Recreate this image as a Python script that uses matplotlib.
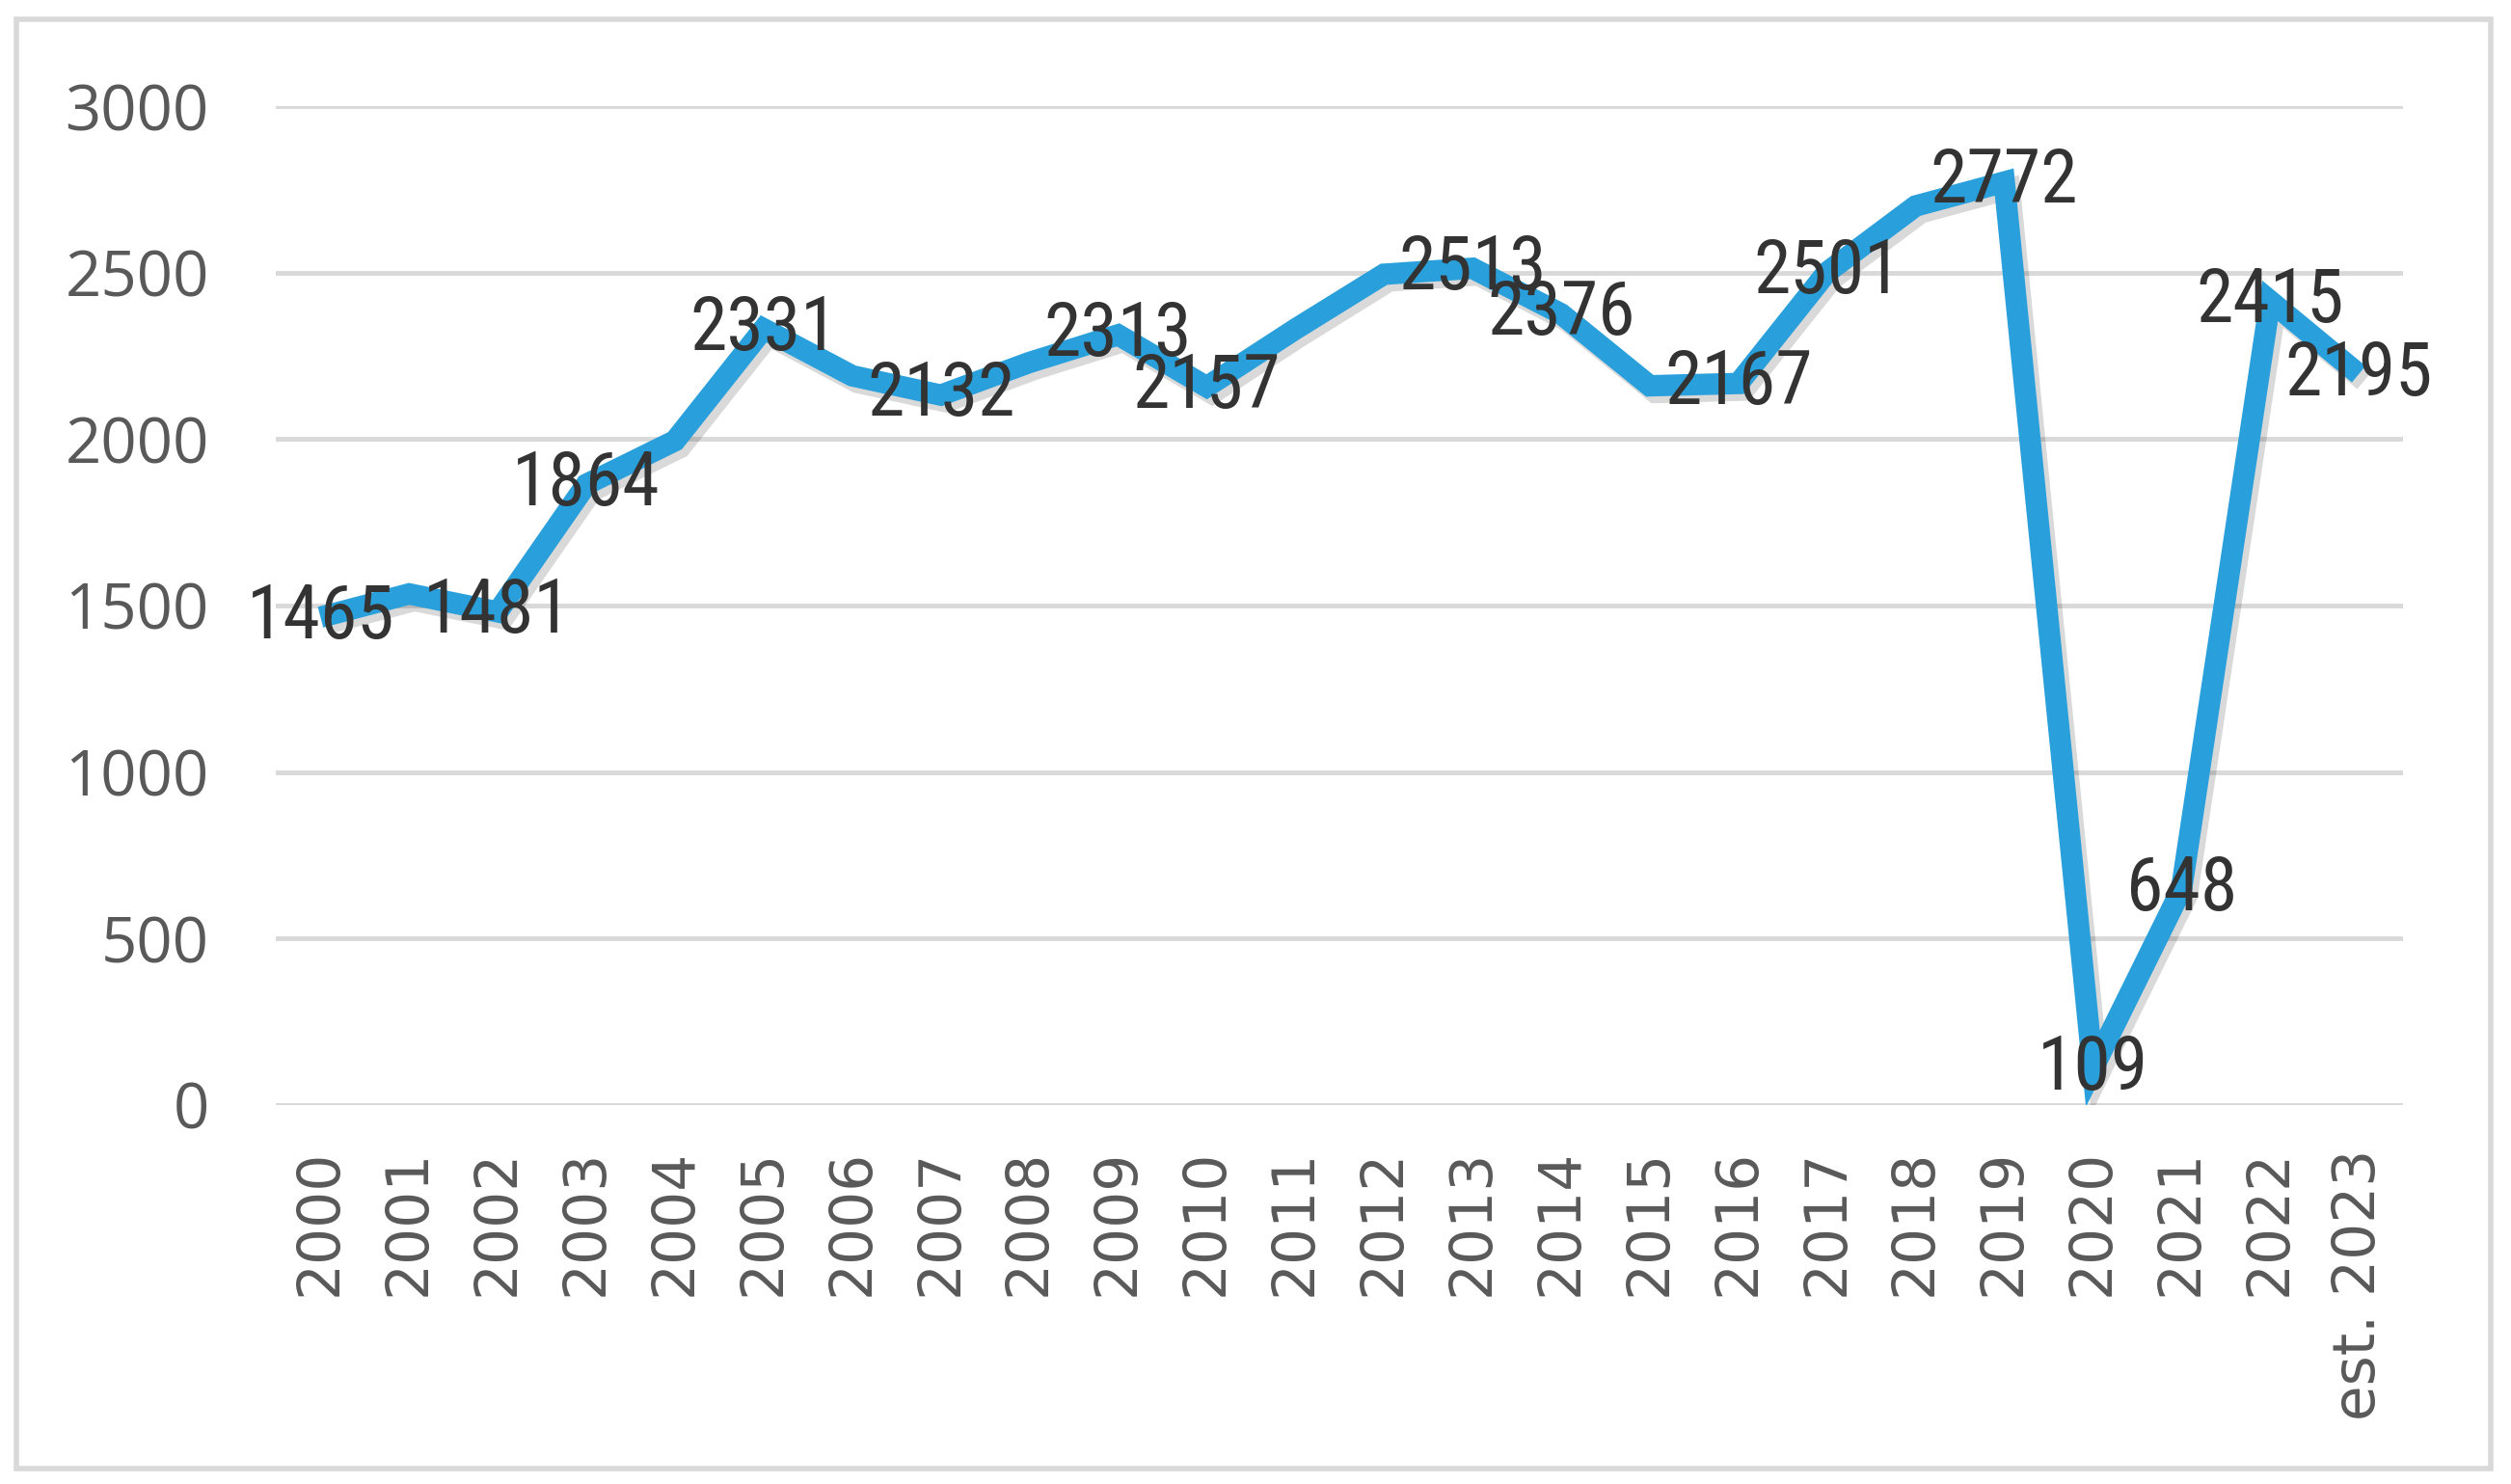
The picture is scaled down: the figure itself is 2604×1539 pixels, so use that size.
import numpy as np
import matplotlib
matplotlib.use('Agg')
import matplotlib.pyplot as plt
import matplotlib.patheffects as pe
from matplotlib.patches import Rectangle
from matplotlib import font_manager

years = ['2000', '2001', '2002', '2003', '2004', '2005', '2006', '2007', '2008',
         '2009', '2010', '2011', '2012', '2013', '2014', '2015', '2016', '2017',
         '2018', '2019', '2020', '2021', '2022', 'est. 2023']
values = [1465, 1535, 1481, 1864, 1995, 2331, 2190, 2132, 2230, 2313, 2157, 2330,
          2495, 2513, 2376, 2160, 2167, 2501, 2700, 2772, 109, 648, 2415, 2195]
# years whose value is printed on the chart
labelled = [0, 2, 3, 5, 7, 9, 10, 13, 14, 16, 17, 19, 20, 21, 22, 23]

line_color = '#29A0DC'
grid_color = '#D9D9D9'

# pick a narrow face for the data labels if one is around
names = {f.name for f in font_manager.fontManager.ttflist}
narrow = [n for n in ['Liberation Sans Narrow', 'Arial Narrow', 'Roboto Condensed',
                      'Open Sans Condensed', 'DejaVu Sans'] if n in names]
condensed_dejavu = any(f.name == 'DejaVu Sans' and f.stretch == 'condensed'
                       for f in font_manager.fontManager.ttflist)

fig = plt.figure(figsize=(26.04, 15.39), dpi=100)
ax = fig.add_axes([0.110, 0.2554, 0.847, 0.6731])

x = np.arange(len(years))
ax.plot(x, values, color=line_color, linewidth=16, solid_joinstyle='miter',
        solid_capstyle='butt', zorder=3,
        path_effects=[pe.SimpleLineShadow(offset=(4, -5), shadow_color='black', alpha=0.15),
                      pe.Normal()])

if narrow[0] == 'DejaVu Sans':
    lab_kw = dict(family=['DejaVu Sans'], fontstretch='condensed',
                  fontsize=52 if condensed_dejavu else 46)
else:
    lab_kw = dict(family=[narrow[0], 'DejaVu Sans'], fontsize=56)

for i in labelled:
    ax.text(x[i], values[i], str(values[i]), ha='center', va='center',
            color='#333333', zorder=4, **lab_kw)

ax.set_xlim(-0.5, 23.5)
ax.set_ylim(0, 3000)
ax.set_yticks(np.arange(0, 3001, 500))
ax.set_xticks(x)
ax.set_xticklabels(years, rotation=90, fontsize=43, color='#595959', va='top', ha='center')
for lab in ax.get_yticklabels():
    lab.set_fontfamily(['Open Sans', 'DejaVu Sans'])
    lab.set_fontsize(47)
    lab.set_color('#595959')

ax.tick_params(axis='both', length=0)
ax.tick_params(axis='x', pad=33)
ax.tick_params(axis='y', pad=50)

ax.grid(True, axis='y', color=grid_color, linewidth=3.5)
ax.set_axisbelow(True)
for s in ax.spines.values():
    s.set_visible(False)

# outer chart border
fig.patches.append(Rectangle((17 / 2604, 1 - 1523 / 1539), (2583 - 17) / 2604, (1523 - 20) / 1539,
                             transform=fig.transFigure, fill=False,
                             edgecolor=grid_color, linewidth=4))

plt.savefig('out.png', dpi=100)
